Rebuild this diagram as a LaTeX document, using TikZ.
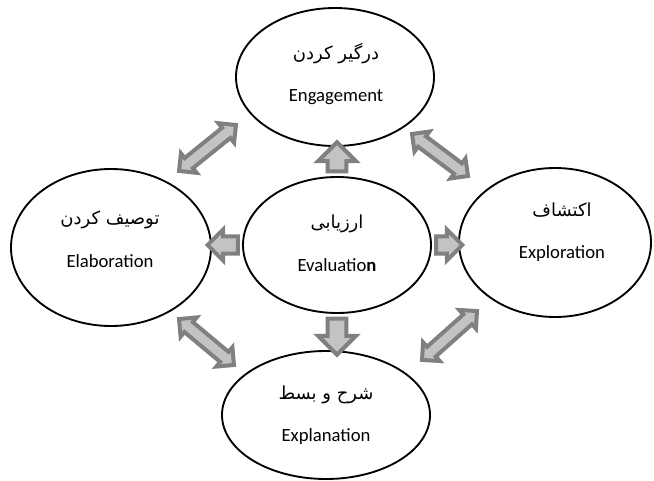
\documentclass[tikz,border=0pt]{standalone}
\usepackage{fontspec}
\setmainfont{Carlito}
\newfontfamily\fafont[Script=Arabic]{DejaVu Sans}
\TeXXeTstate=1
\usetikzlibrary{shapes.geometric,shapes.arrows,calc}
\definecolor{arrowline}{RGB}{128,128,128}
\definecolor{arrowfill}{RGB}{195,195,195}
\newcommand\blockarrow[3]{%
  \path let \p1=($(#3)-(#2)$), \n1={veclen(\x1,\y1)} in
    (#2) -- node[#1,sloped,allow upside down,minimum height=\n1] {} (#3);}

\begin{document}
\begin{tikzpicture}[x=0.75pt,y=-0.75pt,
  stage/.style={draw,ellipse,line width=1.4pt,inner sep=0pt},
  stagetext/.style={align=center,font=\fontsize{14}{17}\selectfont},
  sarrow/.style={single arrow,draw=arrowline,fill=arrowfill,line width=3pt,inner xsep=0pt,inner ysep=5.6pt,minimum width=25.5pt,single arrow head extend=7.1pt},
  darrow/.style={double arrow,draw=arrowline,fill=arrowfill,line width=3pt,inner xsep=0pt,inner ysep=3.4pt,minimum width=15.75pt,double arrow head extend=4.5pt}]
        \useasboundingbox (0,0) rectangle (654,481);

        % the five stages
        \foreach \nm/\px/\py/\w/\h/\tx/\ty/\fa/\en in {eng/335/77/148.5/103.5/336/74/درگیر کردن/Engagement,
            eval/337/245/141/102/337/243/ارزیابی/{Evaluatio\textbf{n}},
            elab/111/247.5/150/117.75/110/239/توصیف کردن/Elaboration,
            expl/555/242.5/144/111.75/562/232/اکتشاف/Exploration,
            expn/326/415/156/96/326/415/شرح و بسط/Explanation}{
            \node[stage,minimum width=\w pt,minimum height=\h pt] (\nm) at (\px,\py) {};
            \node[stagetext] (\nm-text) at (\tx,\ty)
                {{\fafont\fontsize{13.5}{16}\selectfont\beginR\fa\endR}\\[15pt]\en};
        }

        % from evaluation to the others
        \coordinate (up) at (eval.north |- eng.south);
        \coordinate (down) at (eval.south |- expn.north);
        \coordinate (left) at (eval.west -| elab.east);
        \coordinate (right) at (eval.east -| expl.west);
        \blockarrow{sarrow}{eval.north}{up}
        \blockarrow{sarrow}{eval.south}{down}
        \blockarrow{sarrow,inner ysep=4.9pt,minimum width=20.25pt,single arrow head extend=5.25pt}{eval.west}{left}
        \blockarrow{sarrow,inner ysep=4.9pt,minimum width=20.25pt,single arrow head extend=5.25pt}{eval.east}{right}

        % the ring
        \coordinate (tl1) at (179,171);
        \coordinate (tl2) at (236,125);
        \coordinate (tr1) at (412,134);
        \coordinate (tr2) at (468,176);
        \coordinate (bl1) at (179,319);
        \coordinate (bl2) at (234,365);
        \coordinate (br1) at (422,360);
        \coordinate (br2) at (477,311);
        \foreach \a in {tl,tr,bl,br}{
            \blockarrow{darrow}{\a1}{\a2}
        }
\end{tikzpicture}
\end{document}
